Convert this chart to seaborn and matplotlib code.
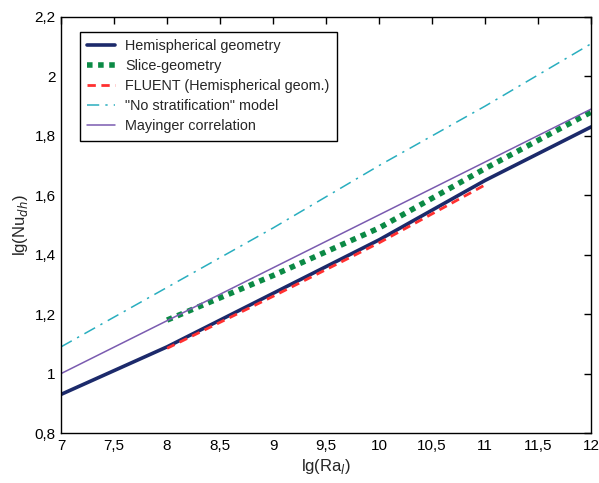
import numpy as np
import pandas as pd
import matplotlib
matplotlib.use("Agg")
import matplotlib.pyplot as plt
import seaborn as sns

# Data
hemi_x = [7, 8, 9, 10, 11, 12]
hemi_y = [0.93, 1.09, 1.27, 1.45, 1.65, 1.83]

slice_x = [8, 9, 10, 11, 12]
slice_y = [1.18, 1.33, 1.49, 1.69, 1.88]

fluent_x = [8, 9, 10, 11]
fluent_y = [1.085, 1.26, 1.44, 1.635]

nostrat_x = [7, 8, 9, 10, 11, 12]
nostrat_y = [1.09, 1.29, 1.49, 1.70, 1.90, 2.11]

may_x = [7, 12]
may_y = [1.00, 1.89]

xticks = [7, 7.5, 8, 8.5, 9, 9.5, 10, 10.5, 11, 11.5, 12]
xtick_labels = ["7", "7,5", "8", "8,5", "9", "9,5", "10", "10,5", "11", "11,5", "12"]
yticks = [0.8, 1.0, 1.2, 1.4, 1.6, 1.8, 2.0, 2.2]
ytick_labels = ["0,8", "1", "1,2", "1,4", "1,6", "1,8", "2", "2,2"]

sns.set_style("white")
plt.rcParams['font.family'] = ['Liberation Sans', 'DejaVu Sans']

fig = plt.figure(figsize=(5.99, 4.83), dpi=100)
ax = fig.add_axes([0.102, 0.1035, 0.885, 0.8615])

sns.lineplot(x=hemi_x, y=hemi_y, ax=ax, color="#1c2a6b", linewidth=2.6,
             label="Hemispherical geometry")
sns.lineplot(x=slice_x, y=slice_y, ax=ax, color="#0b8a45", linewidth=4,
             linestyle=(0, (1, 1)), label="Slice-geometry")
sns.lineplot(x=fluent_x, y=fluent_y, ax=ax, color="#ff3030", linewidth=2,
             linestyle=(0, (3, 2)), label="FLUENT (Hemispherical geom.)")
sns.lineplot(x=nostrat_x, y=nostrat_y, ax=ax, color="#29aebf", linewidth=1.1,
             linestyle=(0, (8, 4, 1.5, 4)), label="\"No stratification\" model")
sns.lineplot(x=may_x, y=may_y, ax=ax, color="#7a5bb0", linewidth=1.1,
             label="Mayinger correlation")

ax.set_xlim(7, 12)
ax.set_ylim(0.8, 2.2)
ax.set_xticks(xticks)
ax.set_xticklabels(xtick_labels)
ax.set_yticks(yticks)
ax.set_yticklabels(ytick_labels)
ax.tick_params(direction="in", length=5, width=1, top=True, right=True,
               labelsize=11, colors="black", pad=4)
for s in ax.spines.values():
    s.set_color("black")
    s.set_linewidth(1)

ax.set_xlabel(r"lg(Ra$_{l}$)", fontsize=12, labelpad=3)
ax.set_ylabel(r"lg(Nu$_{dh}$)", fontsize=12, labelpad=3)

leg = ax.legend(loc="upper left", bbox_to_anchor=(0.036, 0.964), borderaxespad=0,
                fancybox=False, edgecolor="black", framealpha=1, fontsize=10.4,
                handlelength=1.9, handletextpad=0.7, labelspacing=0.42,
                borderpad=0.5)
leg.get_frame().set_linewidth(1)

fig.savefig("out.png", dpi=100)
